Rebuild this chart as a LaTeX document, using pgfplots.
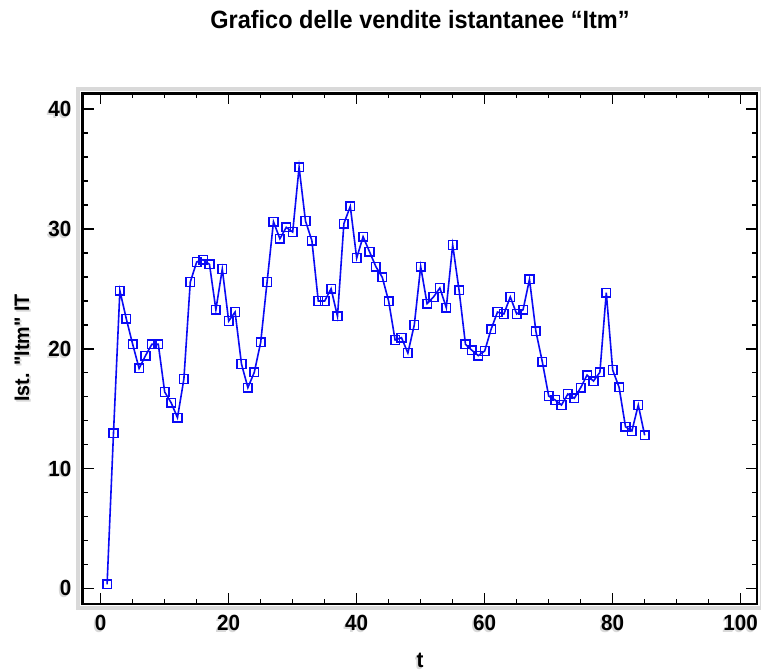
\documentclass[border=0pt]{standalone}
\usepackage{fontspec}
\setmainfont{Liberation Sans}[FakeStretch=0.94]
\usepackage{pgfplots}
\pgfplotsset{compat=1.18}

% instantaneous sales "Itm", one value per period t
\pgfplotstableread{
t  itm
1  0.33
2  12.94
3  24.84
4  22.50
5  20.37
6  18.36
7  19.42
8  20.37
9  20.37
10 16.39
11 15.50
12 14.24
13 17.47
14 25.57
15 27.24
16 27.43
17 27.04
18 23.26
19 26.65
20 22.31
21 23.06
22 18.72
23 16.75
24 18.03
25 20.53
26 25.57
27 30.60
28 29.18
29 30.13
30 29.74
31 35.14
32 30.66
33 29.02
34 23.98
35 23.98
36 25.01
37 22.70
38 30.44
39 31.88
40 27.57
41 29.35
42 28.10
43 26.85
44 25.96
45 23.96
46 20.73
47 20.92
48 19.64
49 21.98
50 26.85
51 23.76
52 24.32
53 25.07
54 23.42
55 28.66
56 24.87
57 20.37
58 19.87
59 19.42
60 19.81
61 21.62
62 23.06
63 22.90
64 24.32
65 22.90
66 23.26
67 25.79
68 21.45
69 18.92
70 16.05
71 15.72
72 15.30
73 16.22
74 15.86
75 16.75
76 17.80
77 17.30
78 18.03
79 24.68
80 18.22
81 16.78
82 13.49
83 13.13
84 15.30
85 12.77
}\itmdata

\definecolor{serie}{RGB}{10,10,245}
\definecolor{halo}{gray}{0.85}

% text with a soft grey drop shadow down and to the left
\newcommand\shadowed[1]{\leavevmode
  \rlap{\kern-1.8pt\raisebox{-1.8pt}[0pt][0pt]{\textcolor{halo}{#1}}}%
  \rlap{\kern-1pt\raisebox{-1pt}[0pt][0pt]{\textcolor{halo}{#1}}}#1}

\begin{document}
\begin{tikzpicture}[x=1pt,y=1pt]
% grey halo around the plot frame
\draw[halo, line width=4pt] (78.2,63.5) rectangle (761.5,583.2);
\begin{axis}[
  at={(82.7pt,68pt)}, anchor=south west,
  scale only axis, width=674.3pt, height=510.7pt,
  axis background/.style={fill=white},
  xmin=-2.81, xmax=102.55, ymin=-1.31, ymax=41.32,
  xtick={0,20,...,100}, minor x tick num=3,
  ytick={0,10,...,40}, minor y tick num=4,
  tick align=inside,
  major tick length=11pt, minor tick length=5pt,
  every tick/.style={black, line width=1.6pt},
  axis line style={black, line width=2.5pt},
  /pgf/number format/assume math mode=true,
  xticklabel={\shadowed{\pgfmathprintnumber{\tick}}},
  yticklabel={\shadowed{\pgfmathprintnumber{\tick}}},
  ticklabel style={font=\bfseries\fontsize{22}{22}\selectfont, inner sep=0pt},
  xticklabel style={yshift=-11pt},
  yticklabel style={xshift=-11pt},
]
\addplot[serie, line width=1.6pt, mark=square,
  mark size=4.3pt, mark options={line width=1.5pt, fill=none}]
  table[x=t, y=itm] {\itmdata};
\end{axis}
\pgfresetboundingbox
\path[use as bounding box] (0,0) rectangle (761,672);
\node[anchor=base, font=\bfseries\fontsize{25}{25}\selectfont]
  at (420,643) {Grafico delle vendite istantanee “Itm”};
\node[anchor=base, inner sep=0pt, font=\bfseries\fontsize{22}{22}\selectfont]
  at (420,4) {\shadowed{t}};
\node[anchor=base, rotate=90, font=\bfseries\fontsize{21}{21}\selectfont]
  at (29,324) {\addfontfeature{Ligatures=TeXOff}\shadowed{Ist. "Itm" IT}};
\end{tikzpicture}
\end{document}
